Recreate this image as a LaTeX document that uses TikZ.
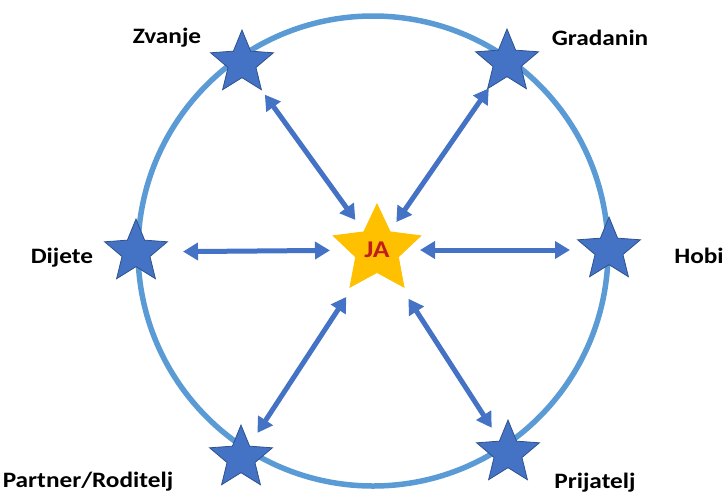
\documentclass[tikz,border=0pt]{standalone}
\usepackage{fontspec}
\setmainfont{Carlito}[FakeStretch=1.15]
\usetikzlibrary{arrows.meta,shapes.geometric}
\definecolor{starblue}{RGB}{68,114,196}
\definecolor{stardark}{RGB}{47,82,143}
\definecolor{ringblue}{RGB}{91,155,213}
\definecolor{jagold}{RGB}{255,192,0}
\definecolor{jared}{RGB}{192,30,30}
\tikzset{
  rolestar/.style={star, star points=5, star point ratio=2.25, draw=stardark,
                   fill=starblue, line width=0.8pt, minimum size=66pt, inner sep=0pt},
  jastar/.style  ={rolestar, draw=jagold, fill=jagold, star point ratio=2.05,
                   minimum size=92pt, text=jared,
                   font=\bfseries\fontsize{24}{26}\selectfont},
  rolelabel/.style={anchor=base, font=\bfseries\fontsize{22}{26}\selectfont},
  ring/.style    ={line width=5.5pt, ringblue},
  link/.style    ={{Triangle[length=15pt,width=17pt]}-{Triangle[length=15pt,width=17pt]},
                   line width=5pt, starblue},
}
\begin{document}
\begin{tikzpicture}[x=1pt, y=-1pt]
\useasboundingbox (0,0) rectangle (728,493);
\draw[ring] (373,251) circle[radius=235pt];
% stars
\node[rolestar] (zv) at (242,63) {};
\node[rolestar] (gr) at (507,62) {};
\node[rolestar] (di) at (136,252) {};
\node[rolestar] (ho) at (609,250) {};
\node[rolestar] (pa) at (241,458) {};
\node[rolestar] (pr) at (508,453) {};
\node[jastar] (ja) at (377,250) {JA};
% links to the centre
\foreach \s/\a/\b in {zv/39/37, gr/32/34, di/47/47, ho/39/43, pa/30/56, pr/30/58}
  \draw[link, shorten <=\a pt, shorten >=\b pt] (\s.center) -- (ja.center);
% labels
\node[rolelabel] (zvl) at (167,43) {Zvanje};
\node[rolelabel] (grl) at (600,45) {Gradanin};
\node[rolelabel] (dil) at (62,263) {Dijete};
\node[rolelabel] (hol) at (699,263) {Hobi};
\node[rolelabel] (pal) at (88,487) {Partner/Roditelj};
\node[rolelabel] (prl) at (595,488) {Prijatelj};
\end{tikzpicture}
\end{document}
